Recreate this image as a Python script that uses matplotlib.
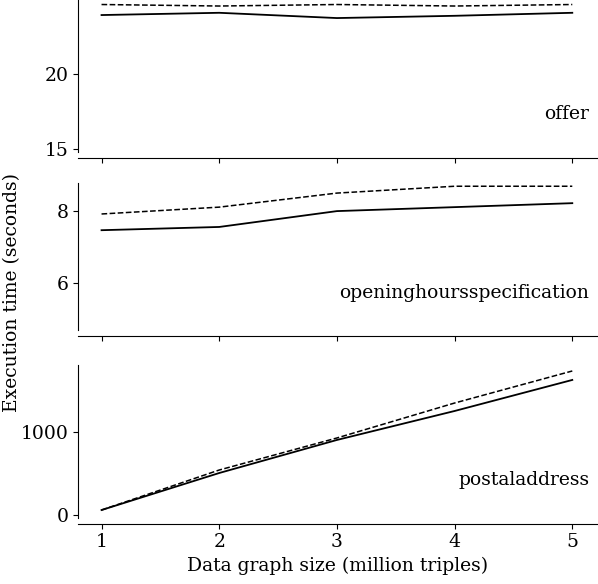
import matplotlib
matplotlib.use("Agg")
import matplotlib.pyplot as plt

sizes = [1, 2, 3, 4, 5]
names = ["offer", "openinghoursspecification", "postaladdress"]
solid = [[23.9, 24.05, 23.7, 23.85, 24.05],
         [7.47, 7.56, 8.0, 8.11, 8.22],
         [60, 506, 904, 1253, 1627]]
dashed = [[24.6, 24.5, 24.6, 24.5, 24.6],
          [7.92, 8.11, 8.5, 8.69, 8.69],
          [60, 542, 928, 1349, 1735]]
ylims = [(14.8, 24.9), (4.7, 8.78), (-36, 1807)]
yticks = [[15, 20], [6, 8], [0, 1000]]

plt.rcParams['font.family'] = ['DejaVu Serif']
plt.rcParams['font.size'] = 13.5
fig = plt.figure(figsize=(5.98, 5.84), dpi=100)
boxes = [(0, 152), (183, 330), (365, 518)]
axes = []
for i, (t, b) in enumerate(boxes):
    ax = fig.add_axes([78/598, 1 - b/584, 519/598, (b - t)/584])
    ax.plot(sizes, solid[i], 'k-', lw=1.3)
    ax.plot(sizes, dashed[i], 'k--', lw=1.1)
    ax.set_ylim(*ylims[i])
    ax.set_yticks(yticks[i])
    ax.set_xlim(0.8, 5.21)
    ax.set_xticks(sizes)
    for s in ['top', 'right']:
        ax.spines[s].set_visible(False)
    ax.spines['bottom'].set_position(('outward', 4))
    if i < 2:
        ax.tick_params(axis='x', labelbottom=False)
    ax.text(0.985, 0.25, names[i], transform=ax.transAxes, ha='right', va='center')
    axes.append(ax)
axes[2].set_xlabel("Data graph size (million triples)")
fig.text(12/598, 0.5, "Execution time (seconds)", rotation=90, ha='center', va='center')
fig.savefig("out.png", dpi=100)
